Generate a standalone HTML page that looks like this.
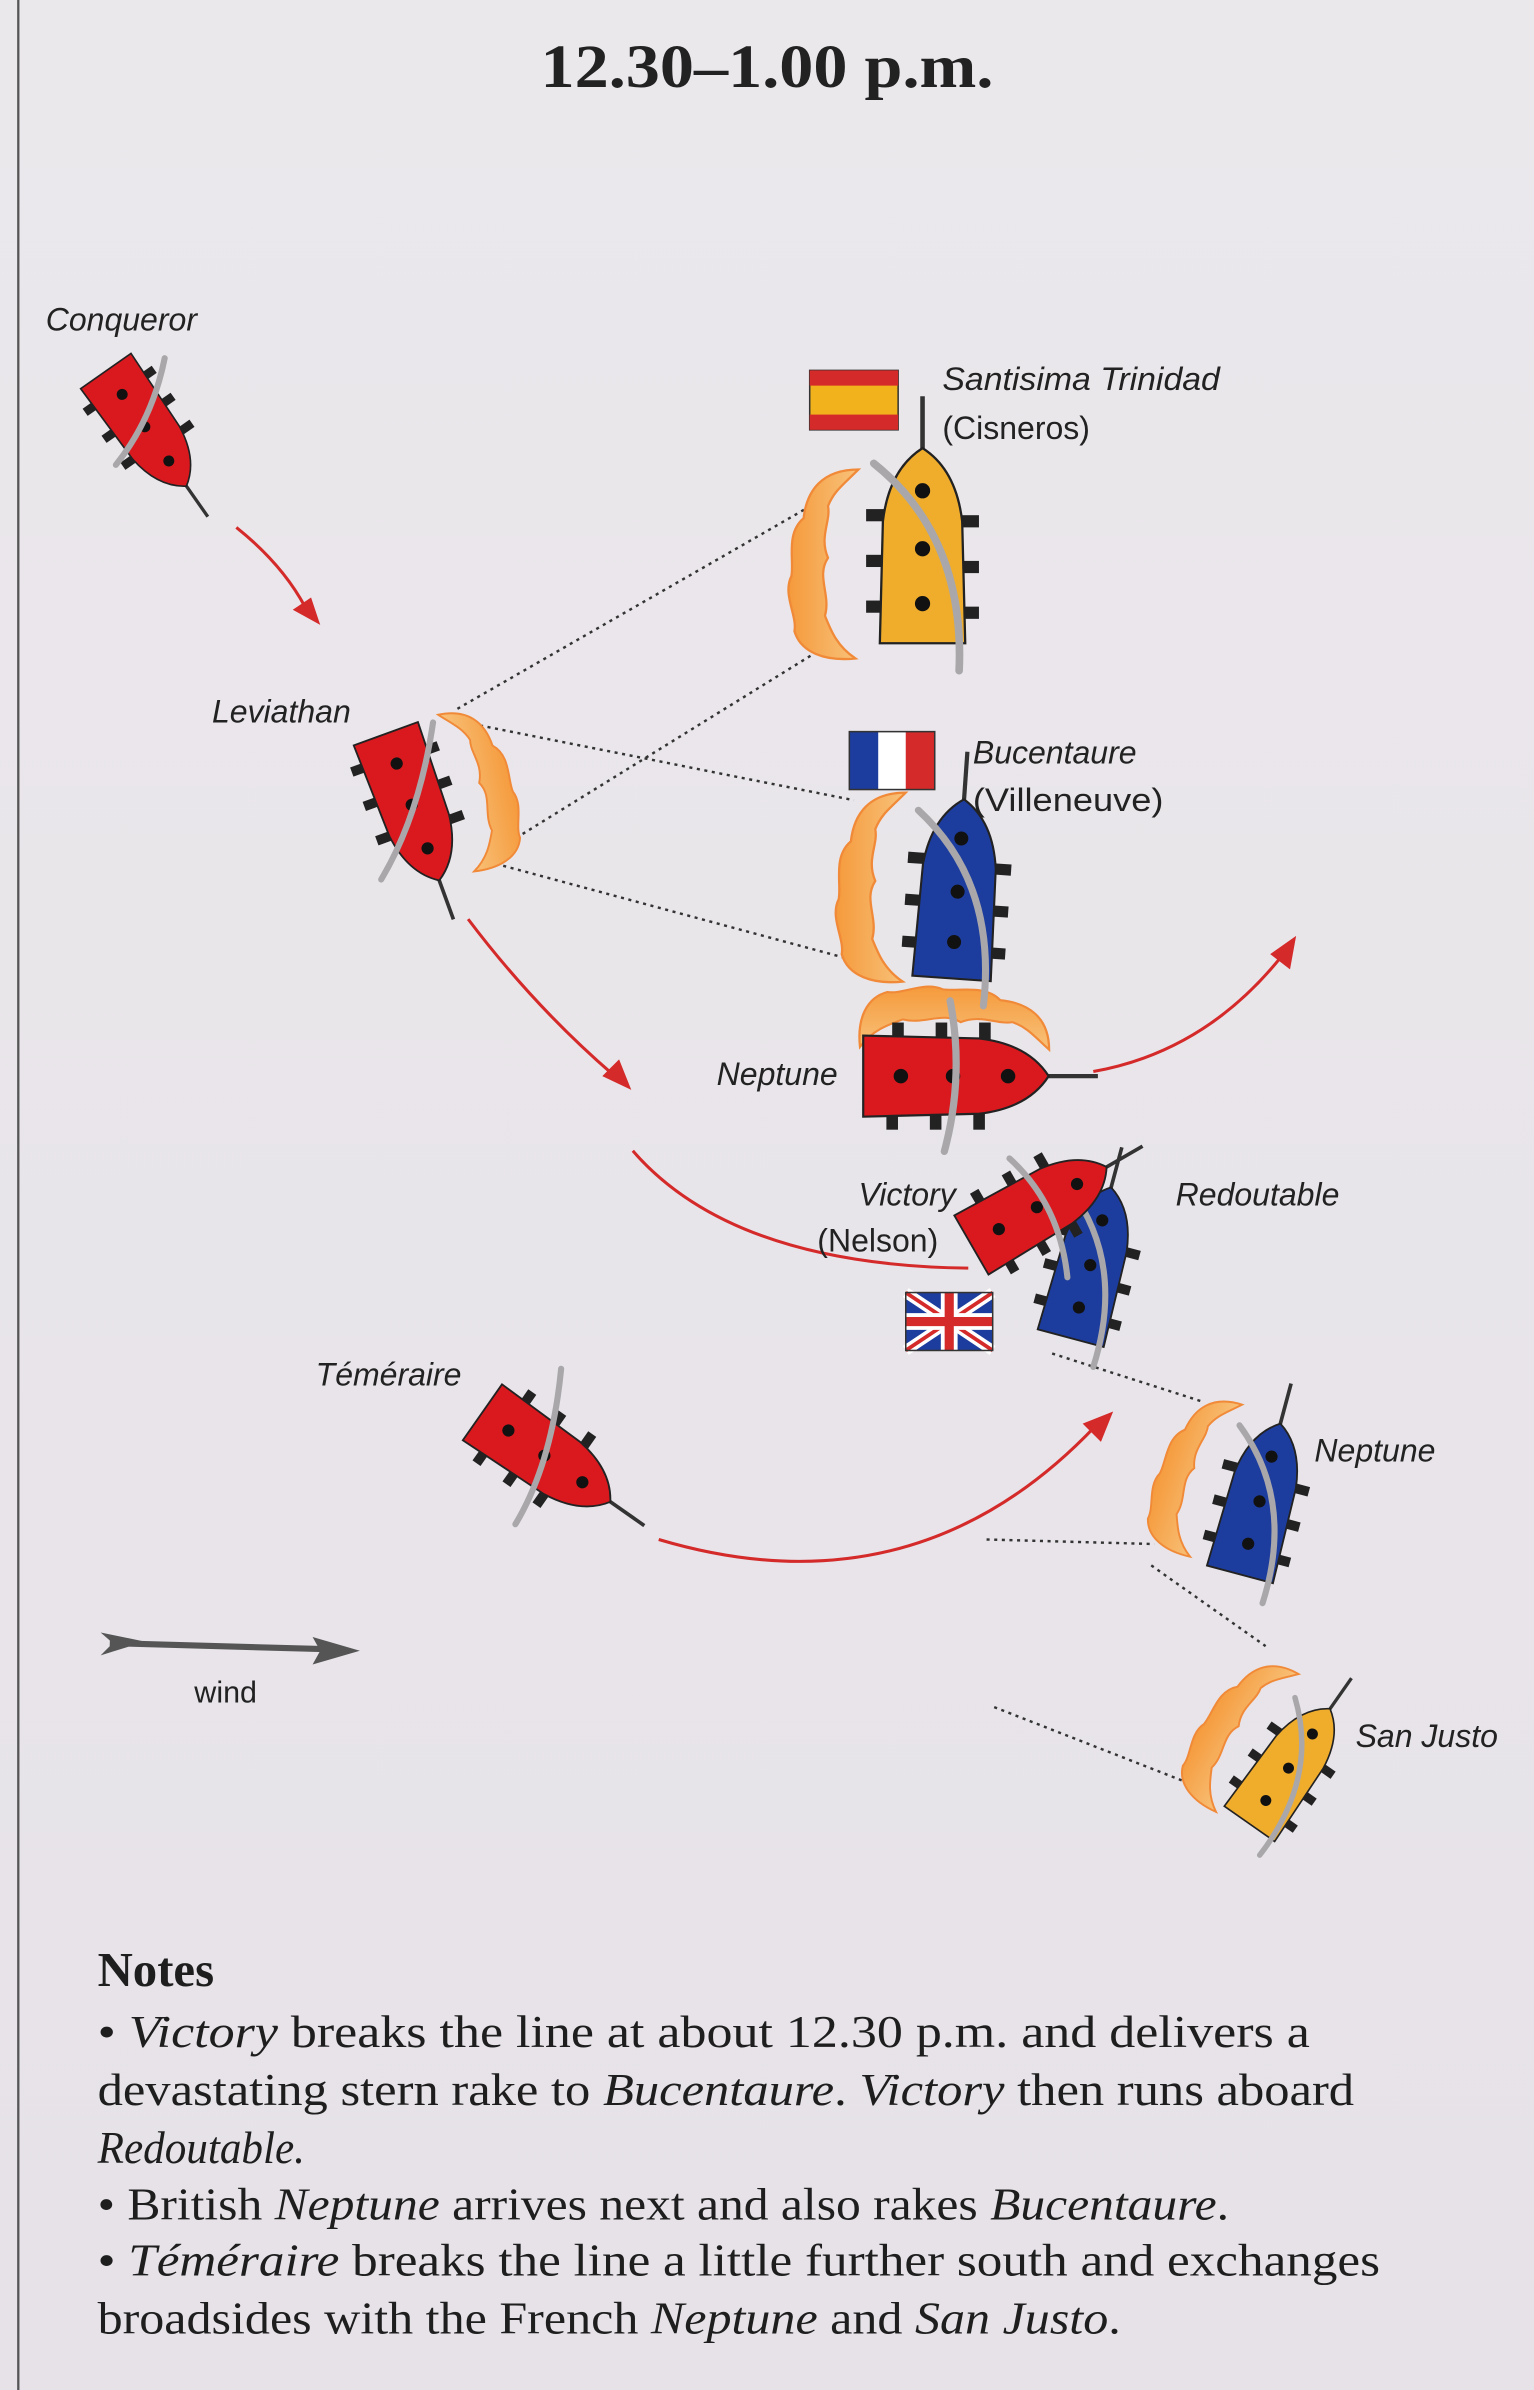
<!DOCTYPE html>
<html><head><meta charset="utf-8"><style>
html,body{margin:0;padding:0;background:#e8e5ea}
svg{display:block}
</style></head><body>
<svg width="1534" height="2390" viewBox="0 0 1006 1568" preserveAspectRatio="none" xmlns="http://www.w3.org/2000/svg">
<defs>
<linearGradient id="bg" x1="0" y1="0" x2="0" y2="1"><stop offset="0" stop-color="#ebe8ec"/><stop offset="1" stop-color="#e6e2e8"/></linearGradient>
<linearGradient id="sm" x1="0" y1="0" x2="1" y2="0"><stop offset="0" stop-color="#f59a3c"/><stop offset="1" stop-color="#f8c27a"/></linearGradient>
<g id="bits">
<line x1="0" y1="-64" x2="0" y2="-100" stroke="#333" stroke-width="3"/>
<rect x="-37" y="-26" width="12" height="8" fill="#222"/><rect x="-37" y="4" width="12" height="8" fill="#222"/><rect x="-37" y="34" width="12" height="8" fill="#222"/>
<rect x="25" y="-22" width="12" height="8" fill="#222"/><rect x="25" y="8" width="12" height="8" fill="#222"/><rect x="25" y="38" width="12" height="8" fill="#222"/>
</g>
<path id="hull" d="M-28,62 L-26,-18 Q-22,-52 0,-66 Q22,-52 26,-18 L28,62 Z" stroke="#222" stroke-width="1.5"/>
<g id="dots" fill="#111"><circle cx="0" cy="-38" r="5"/><circle cx="0" cy="0" r="5"/><circle cx="0" cy="36" r="5"/></g>
<path id="sail" d="M-32,-56 Q28,-8 24,80" stroke="#a9a7aa" stroke-width="5" fill="none" stroke-linecap="round"/>
<path id="smoke" d="M14,-62 C-10,-62 -20,-48 -22,-30 C-34,-20 -28,-2 -30,8 C-36,20 -26,34 -28,44 C-24,58 -8,64 12,62 C0,54 -4,44 -8,34 C-4,20 -14,8 -6,-4 C-12,-18 -4,-28 -6,-38 C-2,-48 4,-52 14,-62 Z" fill="url(#sm)" stroke="#f18a38" stroke-width="1.5"/>
</defs>
<rect width="1006" height="1568" fill="url(#bg)"/>
<line x1="12" y1="0" x2="12" y2="1568" stroke="#555" stroke-width="1.5"/>

<text x="503" y="57" font-family="Liberation Serif, serif" font-size="40" font-weight="bold" text-anchor="middle" fill="#222" textLength="297" lengthAdjust="spacingAndGlyphs">12.30–1.00 p.m.</text>

<g stroke="#333" stroke-width="1.6" stroke-dasharray="2,3" fill="none">
<line x1="300" y1="465" x2="535" y2="330"/><line x1="330" y1="555" x2="540" y2="425"/>
<line x1="305" y1="474" x2="560" y2="525"/><line x1="330" y1="568" x2="560" y2="630"/>
<line x1="690" y1="888" x2="790" y2="920"/><line x1="647" y1="1010" x2="757" y2="1013"/>
<line x1="755" y1="1027" x2="830" y2="1080"/><line x1="652" y1="1120" x2="780" y2="1170"/>
</g>

<g stroke="#d42a2a" stroke-width="2" fill="none">
<path d="M155,346 Q185,370 200,398"/>
<path d="M307,603 Q350,660 402,705"/>
<path d="M717,703 Q790,690 840,628"/>
<path d="M415,755 Q480,830 635,832"/>
<path d="M432,1010 Q600,1060 718,936"/>
</g>
<g fill="#d42a2a">
<polygon points="210,410 192,400 204,392"/>
<polygon points="414,715 395,706 406,695"/>
<polygon points="850,614 846,636 833,626"/>
<polygon points="730,926 722,946 710,934"/>
</g>

<use href="#smoke" transform="translate(549,370)"/>
<use href="#smoke" transform="translate(580,582)"/>
<use href="#smoke" transform="translate(310,518) rotate(-12) scale(-0.85,0.85)"/>
<use href="#smoke" transform="translate(626,676) rotate(90) scale(0.9,1)"/>
<use href="#smoke" transform="translate(787,968) rotate(18) scale(0.85,0.85)"/>
<use href="#smoke" transform="translate(815,1138) rotate(30) scale(0.85,0.85)"/>

<g transform="translate(95,280) rotate(145) scale(0.72)"><use href="#bits"/><use href="#hull" fill="#d9191e"/><use href="#dots"/></g>
<path d="M108,235 Q100,275 76,305" stroke="#a9a7aa" stroke-width="4" fill="none" stroke-linecap="round"/>
<g transform="translate(270,528) rotate(160) scale(0.8)"><use href="#bits"/><use href="#hull" fill="#d9191e"/><use href="#dots"/></g>
<path d="M284,474 Q275,535 250,577" stroke="#a9a7aa" stroke-width="4" fill="none" stroke-linecap="round"/>
<g transform="translate(605,360)"><use href="#bits"/><use href="#hull" fill="#f0ad2c"/><use href="#dots"/><use href="#sail"/></g>
<g transform="translate(628,585) rotate(4) scale(0.92)"><use href="#bits"/><use href="#hull" fill="#1d3d9e"/><use href="#dots"/><use href="#sail"/></g>
<g transform="translate(625,706) rotate(90) scale(0.95,0.95)"><use href="#bits"/><use href="#hull" fill="#d9191e"/><use href="#dots"/><path d="M-52,2 Q0,-8 52,6" stroke="#a9a7aa" stroke-width="5" fill="none" stroke-linecap="round"/></g>
<g transform="translate(715,830) rotate(15) scale(0.8)"><use href="#bits"/><use href="#hull" fill="#1d3d9e"/><use href="#dots"/><use href="#sail"/></g>
<g transform="translate(680,792) rotate(60) scale(0.8)"><use href="#bits"/><use href="#hull" fill="#d9191e"/><use href="#dots"/></g>
<path d="M662,760 Q695,790 700,838" stroke="#a9a7aa" stroke-width="4" fill="none" stroke-linecap="round"/>
<g transform="translate(357,955) rotate(125) scale(0.8)"><use href="#bits"/><use href="#hull" fill="#d9191e"/><use href="#dots"/></g>
<path d="M368,898 Q362,960 338,1000" stroke="#a9a7aa" stroke-width="4" fill="none" stroke-linecap="round"/>
<g transform="translate(826,985) rotate(15) scale(0.8)"><use href="#bits"/><use href="#hull" fill="#1d3d9e"/><use href="#dots"/><use href="#sail"/></g>
<g transform="translate(845,1160) rotate(35) scale(0.72)"><use href="#bits"/><use href="#hull" fill="#f0ad2c"/><use href="#dots"/><use href="#sail"/></g>

<rect x="531" y="243" width="58" height="39" fill="#f2b21c" stroke="#333"/>
<rect x="531" y="243" width="58" height="10" fill="#d42a2a"/><rect x="531" y="272" width="58" height="10" fill="#d42a2a"/>
<rect x="557" y="480" width="19" height="38" fill="#1d3d9e"/><rect x="576" y="480" width="18" height="38" fill="#fff"/><rect x="594" y="480" width="19" height="38" fill="#d42a2a"/>
<rect x="557" y="480" width="56" height="38" fill="none" stroke="#333"/>
<g>
<rect x="594" y="848" width="57" height="38" fill="#1d3d9e"/>
<path d="M594,848 L651,886 M651,848 L594,886" stroke="#fff" stroke-width="7"/>
<path d="M594,848 L651,886 M651,848 L594,886" stroke="#d42a2a" stroke-width="2.5"/>
<path d="M622.5,848 V886 M594,867 H651" stroke="#fff" stroke-width="11"/>
<path d="M622.5,848 V886 M594,867 H651" stroke="#d42a2a" stroke-width="6"/>
<rect x="594" y="848" width="57" height="38" fill="none" stroke="#333"/>
</g>

<line x1="72" y1="1078" x2="215" y2="1082" stroke="#555" stroke-width="4"/>
<polygon points="236,1083 205,1074 210,1083 205,1092" fill="#555"/>
<polygon points="66,1071 95,1077 66,1086 74,1078" fill="#555"/>
<text x="148" y="1117" font-family="Liberation Sans, sans-serif" font-size="20" text-anchor="middle" fill="#222">wind</text>

<g font-family="Liberation Sans, sans-serif" font-style="italic" font-size="21" fill="#222">
<text x="30" y="217">Conqueror</text>
<text x="139" y="474">Leviathan</text>
<text x="618" y="256" textLength="182" lengthAdjust="spacingAndGlyphs">Santisima Trinidad</text>
<text x="638" y="501">Bucentaure</text>
<text x="470" y="712">Neptune</text>
<text x="563" y="791">Victory</text>
<text x="771" y="791">Redoutable</text>
<text x="207" y="909">Téméraire</text>
<text x="862" y="959">Neptune</text>
<text x="889" y="1146">San Justo</text>
</g>
<g font-family="Liberation Sans, sans-serif" font-size="21" fill="#222">
<text x="618" y="288">(Cisneros)</text>
<text x="638" y="532" textLength="125" lengthAdjust="spacingAndGlyphs">(Villeneuve)</text>
<text x="536" y="821">(Nelson)</text>
</g>

<g font-family="Liberation Serif, serif" font-size="30" fill="#1e1e1e">
<text x="64" y="1303" font-weight="bold" font-size="32">Notes</text>
<text x="64" y="1343" textLength="795" lengthAdjust="spacingAndGlyphs">• <tspan font-style="italic">Victory</tspan> breaks the line at about 12.30 p.m. and delivers a</text>
<text x="64" y="1381" textLength="824" lengthAdjust="spacingAndGlyphs">devastating stern rake to <tspan font-style="italic">Bucentaure</tspan>. <tspan font-style="italic">Victory</tspan> then runs aboard</text>
<text x="64" y="1419" font-style="italic" textLength="136" lengthAdjust="spacingAndGlyphs">Redoutable.</text>
<text x="64" y="1456" textLength="742" lengthAdjust="spacingAndGlyphs">• British <tspan font-style="italic">Neptune</tspan> arrives next and also rakes <tspan font-style="italic">Bucentaure</tspan>.</text>
<text x="64" y="1493" textLength="841" lengthAdjust="spacingAndGlyphs">• <tspan font-style="italic">Téméraire</tspan> breaks the line a little further south and exchanges</text>
<text x="64" y="1531" textLength="671" lengthAdjust="spacingAndGlyphs">broadsides with the French <tspan font-style="italic">Neptune</tspan> and <tspan font-style="italic">San Justo</tspan>.</text>
</g>
</svg>
</body></html>
